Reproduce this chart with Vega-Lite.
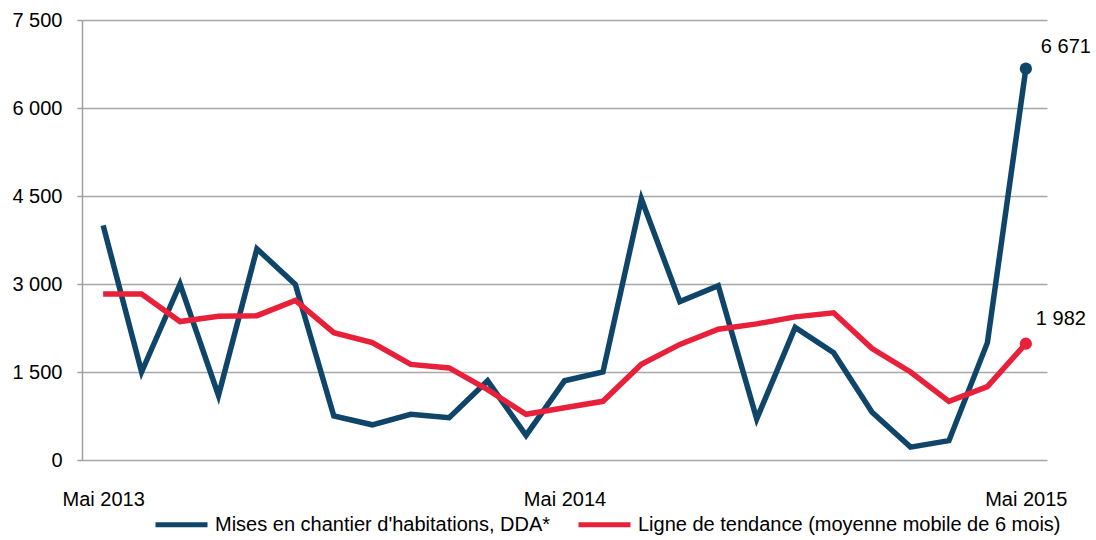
{
  "$schema": "https://vega.github.io/schema/vega-lite/v6.json",
  "width": 965,
  "height": 440,
  "autosize": {"type": "none"},
  "padding": {"left": 82, "top": 20, "right": 49, "bottom": 80},
  "background": "white",
  "config": {
    "locale": {"number": {"decimal": ",", "thousands": " ", "grouping": [3], "currency": ["", " €"]}},
    "font": "Liberation Sans",
    "view": {"stroke": null}
  },
  "data": {"values": [
    {"date": "2013-05", "serie": "Mises en chantier d'habitations, DDA*", "value": 4000},
    {"date": "2013-06", "serie": "Mises en chantier d'habitations, DDA*", "value": 1500},
    {"date": "2013-07", "serie": "Mises en chantier d'habitations, DDA*", "value": 3000},
    {"date": "2013-08", "serie": "Mises en chantier d'habitations, DDA*", "value": 1100},
    {"date": "2013-09", "serie": "Mises en chantier d'habitations, DDA*", "value": 3600},
    {"date": "2013-10", "serie": "Mises en chantier d'habitations, DDA*", "value": 2990},
    {"date": "2013-11", "serie": "Mises en chantier d'habitations, DDA*", "value": 750},
    {"date": "2013-12", "serie": "Mises en chantier d'habitations, DDA*", "value": 600},
    {"date": "2014-01", "serie": "Mises en chantier d'habitations, DDA*", "value": 780},
    {"date": "2014-02", "serie": "Mises en chantier d'habitations, DDA*", "value": 720},
    {"date": "2014-03", "serie": "Mises en chantier d'habitations, DDA*", "value": 1350},
    {"date": "2014-04", "serie": "Mises en chantier d'habitations, DDA*", "value": 420},
    {"date": "2014-05", "serie": "Mises en chantier d'habitations, DDA*", "value": 1350},
    {"date": "2014-06", "serie": "Mises en chantier d'habitations, DDA*", "value": 1500},
    {"date": "2014-07", "serie": "Mises en chantier d'habitations, DDA*", "value": 4450},
    {"date": "2014-08", "serie": "Mises en chantier d'habitations, DDA*", "value": 2700},
    {"date": "2014-09", "serie": "Mises en chantier d'habitations, DDA*", "value": 2970},
    {"date": "2014-10", "serie": "Mises en chantier d'habitations, DDA*", "value": 700},
    {"date": "2014-11", "serie": "Mises en chantier d'habitations, DDA*", "value": 2260},
    {"date": "2014-12", "serie": "Mises en chantier d'habitations, DDA*", "value": 1830},
    {"date": "2015-01", "serie": "Mises en chantier d'habitations, DDA*", "value": 815},
    {"date": "2015-02", "serie": "Mises en chantier d'habitations, DDA*", "value": 220},
    {"date": "2015-03", "serie": "Mises en chantier d'habitations, DDA*", "value": 330},
    {"date": "2015-04", "serie": "Mises en chantier d'habitations, DDA*", "value": 2000},
    {"date": "2015-05", "serie": "Mises en chantier d'habitations, DDA*", "value": 6671},
    {"date": "2013-05", "serie": "Ligne de tendance (moyenne mobile de 6 mois)", "value": 2830},
    {"date": "2013-06", "serie": "Ligne de tendance (moyenne mobile de 6 mois)", "value": 2830},
    {"date": "2013-07", "serie": "Ligne de tendance (moyenne mobile de 6 mois)", "value": 2360},
    {"date": "2013-08", "serie": "Ligne de tendance (moyenne mobile de 6 mois)", "value": 2450},
    {"date": "2013-09", "serie": "Ligne de tendance (moyenne mobile de 6 mois)", "value": 2460},
    {"date": "2013-10", "serie": "Ligne de tendance (moyenne mobile de 6 mois)", "value": 2720},
    {"date": "2013-11", "serie": "Ligne de tendance (moyenne mobile de 6 mois)", "value": 2170},
    {"date": "2013-12", "serie": "Ligne de tendance (moyenne mobile de 6 mois)", "value": 2000},
    {"date": "2014-01", "serie": "Ligne de tendance (moyenne mobile de 6 mois)", "value": 1630},
    {"date": "2014-02", "serie": "Ligne de tendance (moyenne mobile de 6 mois)", "value": 1570},
    {"date": "2014-03", "serie": "Ligne de tendance (moyenne mobile de 6 mois)", "value": 1200},
    {"date": "2014-04", "serie": "Ligne de tendance (moyenne mobile de 6 mois)", "value": 780},
    {"date": "2014-05", "serie": "Ligne de tendance (moyenne mobile de 6 mois)", "value": 890},
    {"date": "2014-06", "serie": "Ligne de tendance (moyenne mobile de 6 mois)", "value": 1000},
    {"date": "2014-07", "serie": "Ligne de tendance (moyenne mobile de 6 mois)", "value": 1630},
    {"date": "2014-08", "serie": "Ligne de tendance (moyenne mobile de 6 mois)", "value": 1970},
    {"date": "2014-09", "serie": "Ligne de tendance (moyenne mobile de 6 mois)", "value": 2230},
    {"date": "2014-10", "serie": "Ligne de tendance (moyenne mobile de 6 mois)", "value": 2320},
    {"date": "2014-11", "serie": "Ligne de tendance (moyenne mobile de 6 mois)", "value": 2440},
    {"date": "2014-12", "serie": "Ligne de tendance (moyenne mobile de 6 mois)", "value": 2510},
    {"date": "2015-01", "serie": "Ligne de tendance (moyenne mobile de 6 mois)", "value": 1900},
    {"date": "2015-02", "serie": "Ligne de tendance (moyenne mobile de 6 mois)", "value": 1500},
    {"date": "2015-03", "serie": "Ligne de tendance (moyenne mobile de 6 mois)", "value": 1000},
    {"date": "2015-04", "serie": "Ligne de tendance (moyenne mobile de 6 mois)", "value": 1250},
    {"date": "2015-05", "serie": "Ligne de tendance (moyenne mobile de 6 mois)", "value": 1982}
  ]},
  "encoding": {
    "x": {
      "field": "date", "type": "ordinal",
      "scale": {"type": "point", "padding": 0.55},
      "axis": {
        "title": null, "ticks": false, "domain": false, "grid": false,
        "labelAngle": 0, "labelFontSize": 20, "labelColor": "#000000",
        "labelPadding": 29,
        "labelExpr": "slice(datum.value, 5) == '05' ? 'Mai ' + slice(datum.value, 0, 4) : ''"
      }
    },
    "y": {
      "field": "value", "type": "quantitative",
      "scale": {"domain": [0, 7500], "nice": false},
      "axis": {
        "title": null, "values": [0, 1500, 3000, 4500, 6000, 7500],
        "format": ",d", "labelFontSize": 20, "labelColor": "#000000",
        "labelPadding": 15, "tickSize": 5, "tickColor": "#a0a0a0", "tickWidth": 1.5,
        "domainColor": "#a0a0a0", "domainWidth": 1.5,
        "gridColor": "#a6a6a6", "gridWidth": 1.5
      }
    },
    "color": {
      "field": "serie", "type": "nominal",
      "scale": {
        "domain": ["Mises en chantier d'habitations, DDA*", "Ligne de tendance (moyenne mobile de 6 mois)"],
        "range": ["#10456a", "#e8203a"]
      },
      "legend": {
        "title": null, "orient": "none", "direction": "horizontal",
        "legendX": 71, "legendY": 476,
        "symbolType": "stroke", "symbolSize": 2704, "symbolStrokeWidth": 5,
        "labelFontSize": 20, "labelColor": "#000000", "labelOffset": 5,
        "labelLimit": 600, "columnPadding": 17
      }
    }
  },
  "layer": [
    {"mark": {"type": "line", "strokeWidth": 5.5}},
    {
      "transform": [{"filter": "datum.date == '2015-05'"}],
      "mark": {"type": "point", "filled": true, "opacity": 1, "size": 150}
    },
    {
      "transform": [{"filter": "datum.date == '2015-05' && datum.value > 5000"}],
      "mark": {"type": "text", "align": "left", "dx": 15, "dy": -22, "fontSize": 20, "color": "#000000"},
      "encoding": {"text": {"field": "value", "type": "quantitative", "format": ",d"}, "color": {"value": "#000000"}}
    },
    {
      "transform": [{"filter": "datum.date == '2015-05' && datum.value < 5000"}],
      "mark": {"type": "text", "align": "left", "dx": 10, "dy": -25, "fontSize": 20, "color": "#000000"},
      "encoding": {"text": {"field": "value", "type": "quantitative", "format": ",d"}, "color": {"value": "#000000"}}
    }
  ]
}
